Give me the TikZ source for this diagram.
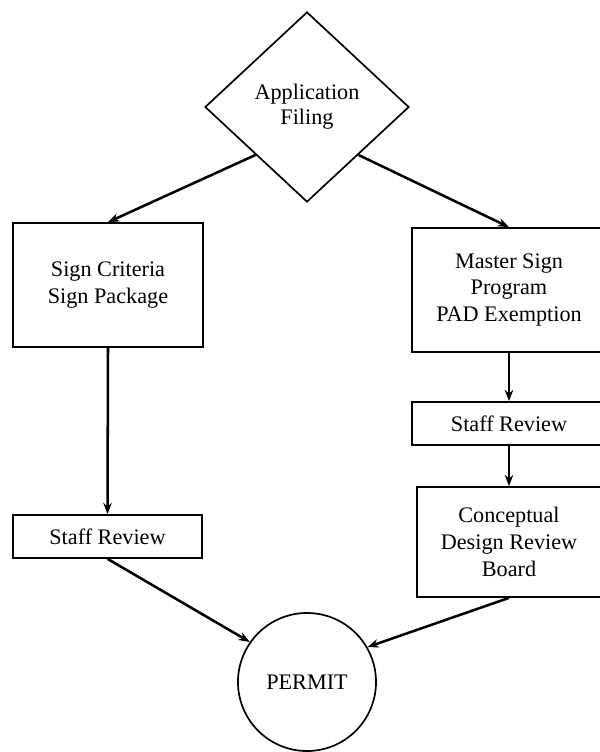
\documentclass[tikz,border=0pt]{standalone}
\usepackage{fontspec}
\setmainfont{Liberation Serif}
\usetikzlibrary{shapes.geometric,arrows.meta}
\begin{document}
\begin{tikzpicture}[x=0.025cm,y=-0.025cm,
    box/.style={draw,line width=1.2pt,align=center,font=\fontsize{15.8}{19}\selectfont},
    flow/.style={-{Stealth[length=8pt,width=6pt]},line width=1.8pt}]
  \useasboundingbox (0,0) rectangle (600,752);
  \clip (0,0) rectangle (600,752);
  \node [box,diamond,minimum width=5.1cm,minimum height=4.75cm,inner sep=0pt,
    font=\fontsize{15.8}{18}\selectfont] (filing) at (307,107) {Application\\Filing};
  \node [box,minimum width=4.75cm,minimum height=3.1cm] (criteria) at (108,285) {Sign Criteria\\Sign Package};
  \node [box,minimum width=4.85cm,minimum height=3.1cm] (master) at (509,290) {Master Sign\\Program\\PAD Exemption};
  \node [box,minimum width=4.725cm,minimum height=1.075cm] (leftreview) at (107.5,536.5) {Staff Review};
  \node [box,minimum width=4.85cm,minimum height=1.075cm] (rightreview) at (509,423.5) {Staff Review};
  \node [box,minimum width=4.6cm,minimum height=2.75cm] (board) at (509,542) {Conceptual\\Design Review\\Board};
  \node [box,circle,minimum size=3.45cm,inner sep=0pt] (permit) at (307,682) {PERMIT};
  \draw [flow] (filing.south west) -- (criteria.north);
  \draw [flow] (filing.south east) -- (master.north);
  \draw [flow] (criteria.south) -- (leftreview.north);
  \draw [flow] (master.south) -- (rightreview.north);
  \draw [flow] (rightreview.south) -- (board.north);
  \draw [flow] (leftreview.south) -- (permit.145);
  \draw [flow] (board.south) -- (permit.30);
\end{tikzpicture}
\end{document}
